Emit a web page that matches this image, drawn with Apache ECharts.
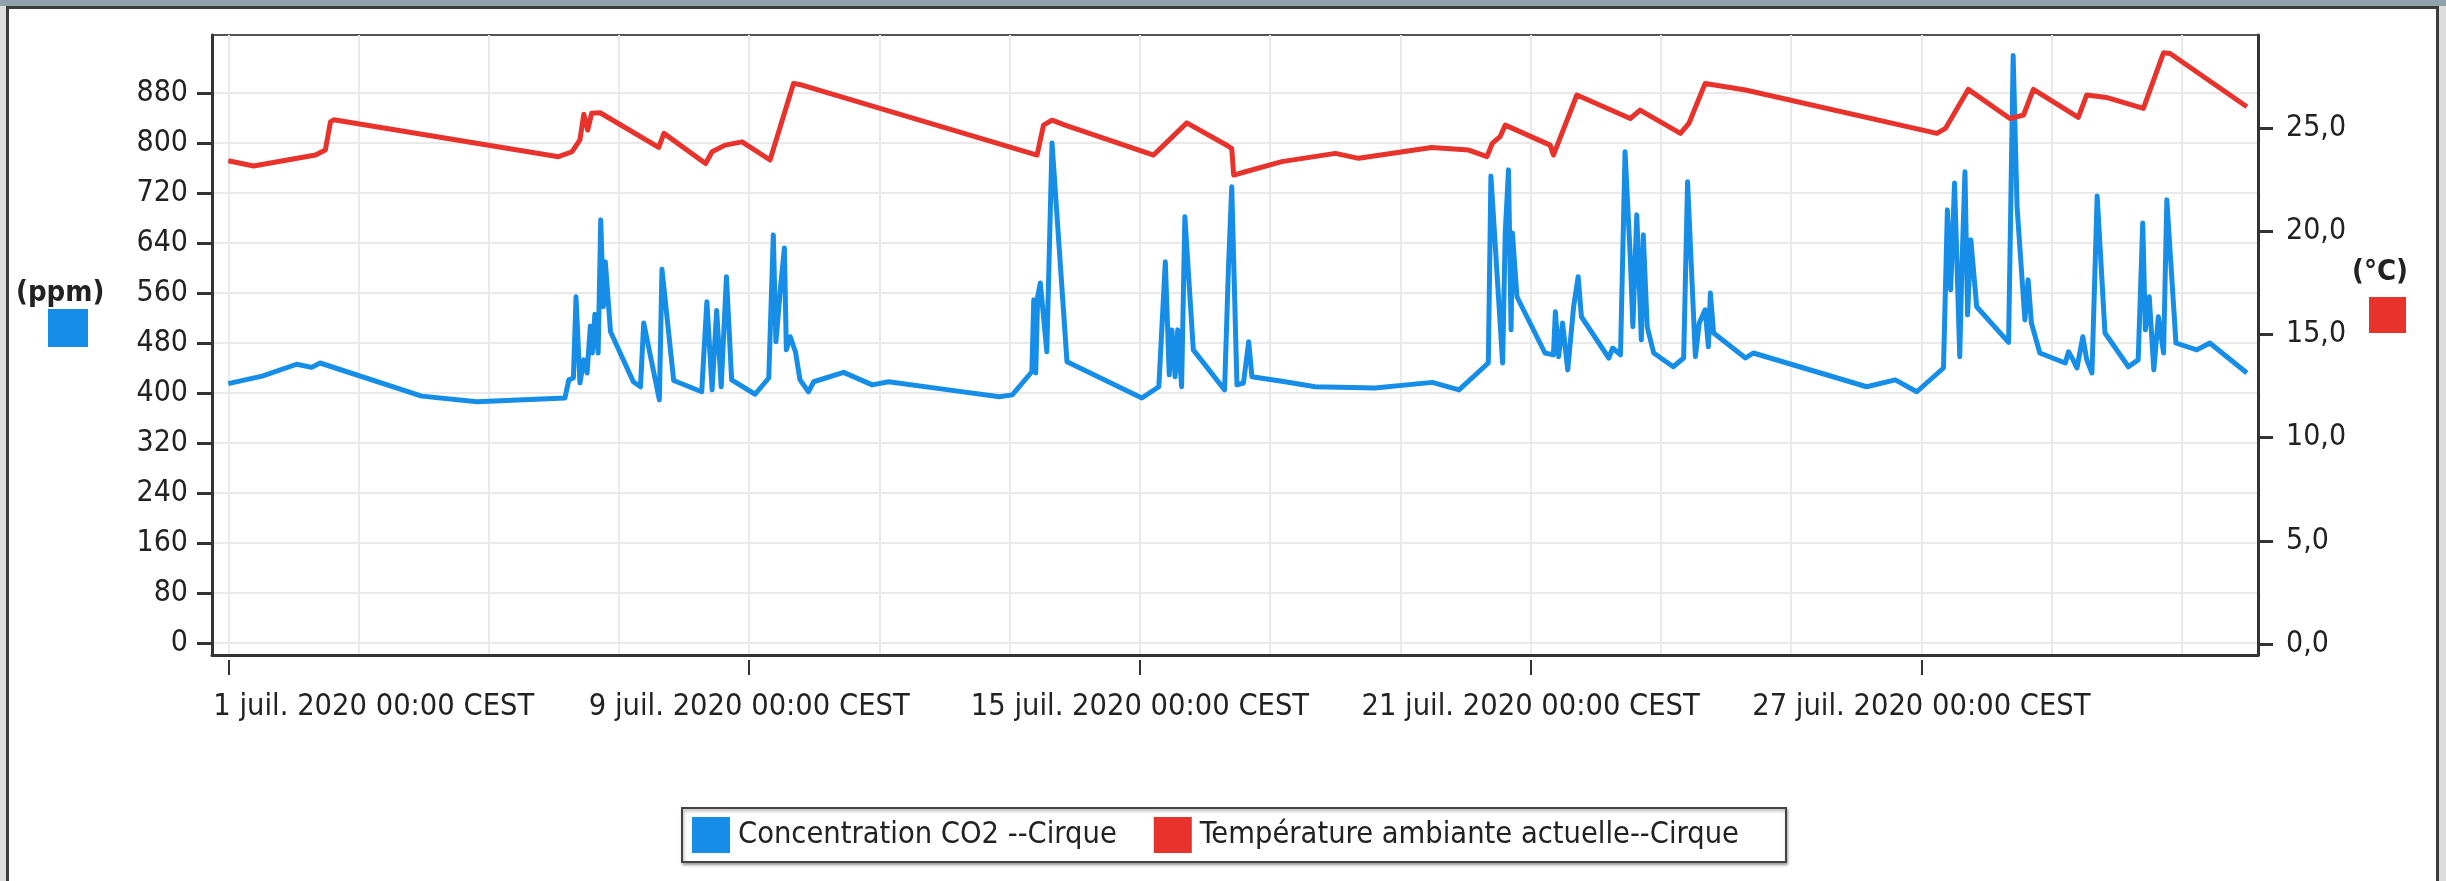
<!DOCTYPE html>
<html>
<head>
<meta charset="utf-8">
<script src="https://cdn.jsdelivr.net/npm/echarts@6/dist/echarts.min.js"></script>
<style>
  html, body { margin: 0; padding: 0; background: #dcdcdc; }
  #wrap { position: relative; width: 2446px; height: 881px; overflow: hidden; background: #dcdcdc; }
  #band { position: absolute; left: 0; top: 0; width: 2446px; height: 6px; background: #8fa2ac; }
  #frame { position: absolute; left: 6px; top: 6px; width: 2427px; height: 900px; background: #ffffff;
           border-left: 3px solid #3c3c3c; border-top: 3px solid #3c3c3c; border-right: 3px solid #3c3c3c; }
  #chart { position: absolute; left: 0; top: 0; width: 2446px; height: 881px; }
</style>
</head>
<body>
<div id="wrap">
  <div id="band"></div>
  <div id="frame"></div>
  <div id="chart"></div>
</div>
<script>
// ---- data (x = days since 1 juil. 2020 00:00 CEST) ----
const co2Days = [0, 0.52, 1.05, 1.28, 1.41, 2.97, 3.82, 5.17, 5.23, 5.30, 5.34, 5.40, 5.46, 5.51, 5.56, 5.59, 5.63, 5.68, 5.72, 5.76, 5.79, 5.87,
  6.22, 6.33, 6.38, 6.62, 6.66, 6.84, 7.27, 7.35, 7.43, 7.50, 7.57, 7.65, 7.73,
  8.09, 8.30, 8.37, 8.41, 8.48, 8.54, 8.57, 8.63, 8.71, 8.78, 8.91, 8.99, 9.45, 9.89, 10.14, 11.06, 11.84, 12.04,
  12.34, 12.37, 12.40, 12.43, 12.47, 12.52, 12.57, 12.65, 12.88, 14.03, 14.29, 14.39, 14.45, 14.49, 14.54, 14.58, 14.64, 14.69, 14.82,
  15.30, 15.36, 15.41, 15.49, 15.59, 15.67, 15.72, 16.23, 16.69, 17.61, 18.49, 18.90,
  19.35, 19.39, 19.57, 19.61, 19.66, 19.70, 19.72, 19.79, 20.22, 20.35, 20.38, 20.43, 20.49, 20.57, 20.66, 20.73, 20.78,
  21.20, 21.26, 21.38, 21.45, 21.53, 21.57, 21.63, 21.70, 21.73, 21.79, 21.89, 22.19, 22.35, 22.41, 22.53, 22.59, 22.68, 22.73, 22.76, 22.81,
  23.30, 23.42, 25.16, 25.60, 25.93, 26.34, 26.40, 26.45, 26.51, 26.59, 26.62, 26.67, 26.71, 26.76, 26.85,
  27.34, 27.41, 27.47, 27.59, 27.64, 27.69, 27.82, 28.21, 28.26, 28.33, 28.39, 28.48, 28.54, 28.62, 28.70, 28.82,
  29.18, 29.33, 29.40, 29.44, 29.50, 29.57, 29.64, 29.72, 29.77, 29.91, 30.23, 30.43, 31.0];
const co2Values = [415, 427, 446, 441, 448, 395, 386, 392, 421, 424, 554, 416, 453, 432, 507, 464, 526, 464, 677, 538, 610, 498,
  418, 410, 512, 389, 598, 420, 402, 546, 405, 532, 410, 586, 421,
  398, 424, 653, 482, 568, 632, 469, 490, 466, 421, 402, 418, 433, 413, 418, 405, 394, 397,
  434, 549, 432, 554, 576, 522, 466, 800, 450, 392, 410, 610, 429, 501, 426, 501, 410, 682, 469,
  405, 602, 730, 413, 416, 482, 426, 418, 410, 408, 417, 405,
  448, 747, 448, 656, 757, 501, 656, 554, 464, 461, 530, 458, 512, 437, 538, 586, 522,
  456, 472, 461, 786, 618, 506, 685, 485, 653, 506, 464, 442, 456, 738, 458, 512, 533, 474, 560, 496,
  456, 464, 410, 421, 402, 440, 693, 565, 736, 458, 592, 754, 525, 645, 538,
  481, 940, 698, 517, 581, 512, 464, 448, 466, 453, 440, 490, 453, 432, 715, 496,
  442, 453, 672, 501, 554, 437, 522, 464, 709, 480, 469, 480, 432];

const tempDays = [0, 0.39, 1.34, 1.49, 1.57, 1.62, 5.07, 5.28, 5.40, 5.46, 5.52, 5.58, 5.71, 6.61, 6.69, 7.33, 7.43, 7.63, 7.89, 8.32,
  8.68, 8.81, 12.42, 12.52, 12.65, 12.85, 14.21, 14.72, 15.34, 15.41, 15.44, 15.62, 16.18, 17.00, 17.36, 18.48, 19.05, 19.33,
  19.41, 19.53, 19.61, 20.30, 20.35, 20.71, 21.53, 21.68, 22.30, 22.43, 22.68, 23.30, 26.24, 26.37, 26.72, 27.36, 27.57, 27.72,
  28.41, 28.54, 28.84, 29.41, 29.72, 29.82, 31.0];
const tempValues = [23.41, 23.16, 23.69, 23.93, 25.3, 25.4, 23.61, 23.85, 24.42, 25.67, 24.9, 25.71, 25.74, 24.06, 24.74, 23.28, 23.85, 24.17, 24.33, 23.45,
  27.16, 27.08, 23.69, 25.14, 25.38, 25.14, 23.69, 25.25, 24.15, 24.0, 22.72, 22.88, 23.37, 23.77, 23.53, 24.06, 23.93, 23.61,
  24.25, 24.58, 25.14, 24.17, 23.69, 26.6, 25.46, 25.87, 24.74, 25.22, 27.16, 26.84, 24.74, 24.98, 26.87, 25.46, 25.63, 26.87,
  25.51, 26.6, 26.48, 25.95, 28.65, 28.61, 26.03];

const co2Ticks = [0, 80, 160, 240, 320, 400, 480, 560, 640, 720, 800, 880];
const tempTicks = [0, 5, 10, 15, 20, 25];
const dateLabelDays = [0, 8, 14, 20, 26];
const gridDays = [0, 2, 4, 6, 8, 10, 12, 14, 16, 18, 20, 22, 24, 26, 28, 30];

const nameCO2 = 'Concentration CO2 --Cirque';
const nameTemp = 'Température ambiante actuelle--Cirque';
const unitLeft = '(ppm)';
const unitRight = '(°C)';

// ---- chart ----
const BLUE = '#168ee8';
const RED = '#e8322c';
const FONT = "'DejaVu Sans Condensed', 'Liberation Sans', sans-serif";
const TXT = '#222222';
const X_MIN = -0.25, X_MAX = 31.17;

// the first date label is drawn left-aligned from the plot's left edge, as in the original
const dateLabelPos = [X_MIN + 0.02].concat(dateLabelDays.slice(1));

const chart = echarts.init(document.getElementById('chart'), null, { renderer: 'canvas' });

const co2Data = co2Days.map((d, i) => [d, co2Values[i]]);
const tempData = tempDays.map((d, i) => [d, tempValues[i]]);

chart.setOption({
  animation: false,
  backgroundColor: 'transparent',
  textStyle: { fontFamily: FONT },
  title: [
    { text: unitLeft, left: 16, top: 279, padding: 0,
      textStyle: { fontSize: 29, fontWeight: 'bold', color: TXT, fontFamily: FONT } },
    { text: unitRight, left: 2352, top: 258, padding: 0,
      textStyle: { fontSize: 29, fontWeight: 'bold', color: TXT, fontFamily: FONT } }
  ],
  legend: [
    { data: [nameCO2, nameTemp], left: 682, top: 808, orient: 'horizontal',
      icon: 'rect', itemWidth: 38, itemHeight: 36, itemGap: 37, selectedMode: false,
      padding: [9, 47, 9, 10], backgroundColor: '#ffffff',
      borderColor: '#444', borderWidth: 2,
      shadowColor: 'rgba(0,0,0,0.35)', shadowBlur: 3, shadowOffsetX: 1, shadowOffsetY: 2,
      itemStyle: { borderWidth: 0 },
      textStyle: { fontSize: 30.5, color: TXT, fontFamily: FONT, padding: [0, 0, 0, 3] } },
    { data: [nameCO2], left: 48, top: 309, icon: 'rect', itemWidth: 40, itemHeight: 38,
      selectedMode: false, padding: 0, formatter: () => '', itemStyle: { borderWidth: 0 },
      textStyle: { fontSize: 10 } },
    { data: [nameTemp], left: 2369, top: 297, icon: 'rect', itemWidth: 37, itemHeight: 36,
      selectedMode: false, padding: 0, formatter: () => '', itemStyle: { borderWidth: 0 },
      textStyle: { fontSize: 10 } }
  ],
  grid: {
    left: 212, top: 35, width: 2046, height: 620,
    show: true, borderColor: '#555', borderWidth: 2, backgroundColor: 'transparent',
    containLabel: false, outerBoundsMode: 'none'
  },
  xAxis: [
    { type: 'value', min: X_MIN, max: X_MAX, position: 'bottom',
      axisLine: { show: true, onZero: false, lineStyle: { color: '#333', width: 3 } },
      axisTick: { show: false, customValues: gridDays },
      axisLabel: { show: false },
      splitLine: { show: true, lineStyle: { color: '#e9e9e9', width: 2 } } },
    { type: 'value', min: X_MIN, max: X_MAX, position: 'bottom', offset: 5,
      axisLine: { show: false, onZero: false },
      axisTick: { show: true, customValues: dateLabelDays, length: 15, lineStyle: { color: '#333', width: 2 } },
      axisLabel: { show: true, customValues: dateLabelPos, margin: 32, fontSize: 30.5, color: TXT, fontFamily: FONT,
        alignMinLabel: 'left',
        formatter: v => (Math.round(v) + 1) + ' juil. 2020 00:00 CEST' },
      splitLine: { show: false } }
  ],
  yAxis: [
    { type: 'value', min: -19.2, max: 972.8, position: 'left',
      axisLine: { show: true, onZero: false, lineStyle: { color: '#333', width: 3 } },
      axisTick: { show: true, customValues: co2Ticks, length: 15, lineStyle: { color: '#333', width: 3 } },
      axisLabel: { show: true, customValues: co2Ticks, margin: 24, fontSize: 30, color: TXT, fontFamily: FONT,
        formatter: v => String(Math.round(v)) },
      splitLine: { show: true, lineStyle: { color: '#e9e9e9', width: 2 } } },
    { type: 'value', min: -0.533, max: 29.506, position: 'right',
      axisLine: { show: true, onZero: false, lineStyle: { color: '#333', width: 3 } },
      axisTick: { show: true, customValues: tempTicks, length: 15, lineStyle: { color: '#333', width: 3 } },
      axisLabel: { show: true, customValues: tempTicks, margin: 28, fontSize: 30, color: TXT, fontFamily: FONT,
        formatter: v => v.toFixed(1).replace('.', ',') },
      splitLine: { show: false } }
  ],
  series: [
    { name: nameCO2, type: 'line', xAxisIndex: 0, yAxisIndex: 0, data: co2Data,
      showSymbol: false, symbol: 'none', color: BLUE,
      lineStyle: { color: BLUE, width: 5, join: 'round' }, z: 2 },
    { name: nameTemp, type: 'line', xAxisIndex: 0, yAxisIndex: 1, data: tempData,
      showSymbol: false, symbol: 'none', color: RED,
      lineStyle: { color: RED, width: 5, join: 'round' }, z: 3 }
  ]
});
</script>
</body>
</html>
